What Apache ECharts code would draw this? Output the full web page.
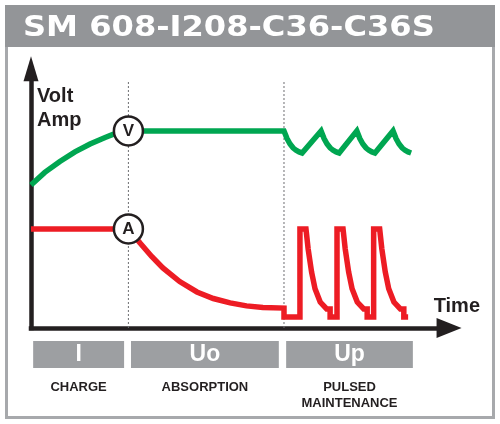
<!DOCTYPE html>
<html>
<head>
<meta charset="utf-8">
<style type="text/css">
    *, html, body { margin: 0; padding: 0; }
    body { background: #fff; }
    #container { width: 500px; height: 424px; }
</style>
<script type="text/javascript" src="https://cdn.jsdelivr.net/npm/echarts@6/dist/echarts.min.js"></script>
</head>
<body>
<div id="container"></div>
<script type="text/javascript">
    // time runs 0..97 along the axis, level 0..95 up the axis
    var voltage = [[0,52.4],[3.2,57.0],[6.7,61.0],[10.2,64.5],[13.7,67.4],[17.2,69.8],[19.0,70.9],[22.6,72.2],[58.7,72.2],
        [59.4,69.4],[60.1,67.4],[60.8,66.0],[61.5,65.1],[62.2,64.5],[62.9,64.1],
        [67.3,72.2],[68.0,69.4],[68.7,67.4],[69.4,66.0],[70.1,65.1],[70.8,64.5],[71.5,64.1],
        [75.6,72.2],[76.3,69.4],[77.0,67.4],[77.7,66.0],[78.4,65.1],[79.1,64.5],[79.8,64.1],
        [84.0,72.2],[84.7,69.4],[85.4,67.4],[86.1,66.0],[86.8,65.1],[87.5,64.5],[88.2,64.1]];

    var current = [[0,36.3],[22.6,36.3],[25.3,31.1],[28.0,26.2],[30.6,22.0],[34.5,17.0],[38.5,13.2],[42.3,10.8],
        [46.2,9.2],[50.0,8.1],[53.8,7.5],[58.7,7.3],
        [58.7,4.0],[62.4,4.0],[62.4,36.3],[63.8,36.3],[64.3,29.0],[65.1,20.5],[65.9,14.4],[67.1,9.5],[68.6,7.0],[69.4,7.0],[69.4,4.0],[71.0,4.0],
        [71.0,36.3],[72.4,36.3],[72.9,29.0],[73.7,20.5],[74.5,14.4],[75.7,9.5],[77.2,7.0],[78.0,7.0],[78.0,4.0],[79.5,4.0],
        [79.5,36.3],[80.9,36.3],[81.4,29.0],[82.2,20.5],[83.0,14.4],[84.2,9.5],[85.7,7.0],[86.5,7.0],[86.5,4.0],[87.5,4.0]];

    var markerLabels = ['V', 'A'];
    var markerPoints = [[22.6,72.2],[22.6,36.3]];

    var phaseBounds = [22.6, 58.7];
    var dashTop = 90.8;

    var phaseNames = ['I', 'Uo', 'Up'];
    var phaseText = ['CHARGE', 'ABSORPTION', 'PULSED\nMAINTENANCE'];
    var phaseStart = [0.5, 23.2, 59.2];
    var phaseEnd = [21.6, 57.5, 88.6];

    var xMax = 97, yMax = 95;

    var myChart = echarts.init(document.getElementById('container'));

    var dark = '#231f20';
    var font = '"Liberation Sans", Arial, sans-serif';

    var series = [];
    phaseBounds.forEach(function (b) {
        series.push({
            type: 'line', z: 1, silent: true, showSymbol: false,
            data: [[b, 0], [b, dashTop]],
            lineStyle: { color: '#6d6e71', width: 1, type: [2, 2] }
        });
    });
    series.push({
        name: 'Volt', type: 'line', z: 3, showSymbol: false, clip: false,
        data: voltage,
        lineStyle: { color: '#00a651', width: 5.5, join: 'miter', cap: 'butt' }
    });
    series.push({
        name: 'Amp', type: 'line', z: 3, showSymbol: false, clip: false,
        data: current,
        lineStyle: { color: '#ed1c24', width: 5.5, join: 'miter', cap: 'butt' }
    });
    series.push({
        type: 'scatter', z: 5, symbol: 'circle', symbolSize: 29,
        data: markerPoints.map(function (p, i) { return { value: p, name: markerLabels[i] }; }),
        itemStyle: { color: '#fff', borderColor: dark, borderWidth: 2.5, opacity: 1 },
        label: {
            show: true, position: 'inside', formatter: '{b}',
            color: dark, fontFamily: font, fontWeight: 'bold', fontSize: 17
        }
    });
    series.push({
        type: 'custom', z: 4, clip: false, silent: true,
        data: phaseStart.map(function (s, i) { return [s, phaseEnd[i]]; }),
        renderItem: function (params, api) {
            var a = api.coord([api.value(0), 0]);
            var b = api.coord([api.value(1), 0]);
            var i = params.dataIndex;
            var cx = (a[0] + b[0]) / 2;
            return {
                type: 'group',
                children: [
                    { type: 'rect', shape: { x: a[0], y: a[1] + 13, width: b[0] - a[0], height: 27 },
                      style: { fill: '#9d9fa2' } },
                    { type: 'text', x: cx, y: a[1] + 27,
                      style: { text: phaseNames[i], fill: '#fff', font: 'bold 23px ' + font,
                               align: 'center', verticalAlign: 'middle' } },
                    { type: 'text', x: cx, y: a[1] + 51,
                      style: { text: phaseText[i], fill: dark, font: 'bold 13px ' + font,
                               align: 'center', verticalAlign: 'top', lineHeight: 16 } }
                ]
            };
        }
    });

    var option = {
        animation: false,
        backgroundColor: '#fff',
        grid: { left: 31, top: 328 - 2.73 * yMax, width: 4.31 * xMax, height: 2.73 * yMax },
        xAxis: {
            type: 'value', min: 0, max: xMax,
            axisLine: { show: true, onZero: false, symbol: ['none', 'triangle'], symbolSize: [20, 25],
                        lineStyle: { color: dark, width: 4.5, cap: 'square' } },
            axisTick: { show: false }, axisLabel: { show: false }, splitLine: { show: false }
        },
        yAxis: {
            type: 'value', min: 0, max: yMax,
            axisLine: { show: true, onZero: false, symbol: ['none', 'triangle'], symbolSize: [15, 25],
                        lineStyle: { color: dark, width: 4.5, cap: 'square' } },
            axisTick: { show: false }, axisLabel: { show: false }, splitLine: { show: false }
        },
        graphic: [
            { type: 'rect', z: -10, silent: true, shape: { x: 6.5, y: 6.5, width: 487, height: 411 },
              style: { fill: '#fff', stroke: '#a7a9ac', lineWidth: 3 } },
            { type: 'rect', z: -9, silent: true, shape: { x: 5, y: 5, width: 490, height: 42 },
              style: { fill: '#939598' } },
            { type: 'text', z: -8, silent: true, x: 23, y: 28, scaleX: 1.107,
              style: { text: 'SM 608-I208-C36-C36S', font: 'bold 29px "DejaVu Sans"', fill: '#fff',
                       verticalAlign: 'middle' } },
            { type: 'text', silent: true, x: 37, y: 84,
              style: { text: 'Volt\nAmp', font: 'bold 20px ' + font, lineHeight: 24, fill: dark } },
            { type: 'text', silent: true, x: 480, y: 306,
              style: { text: 'Time', font: 'bold 20px ' + font, fill: dark, align: 'right', verticalAlign: 'middle' } }
        ],
        series: series
    };
    myChart.setOption(option);
</script>
</body>
</html>
